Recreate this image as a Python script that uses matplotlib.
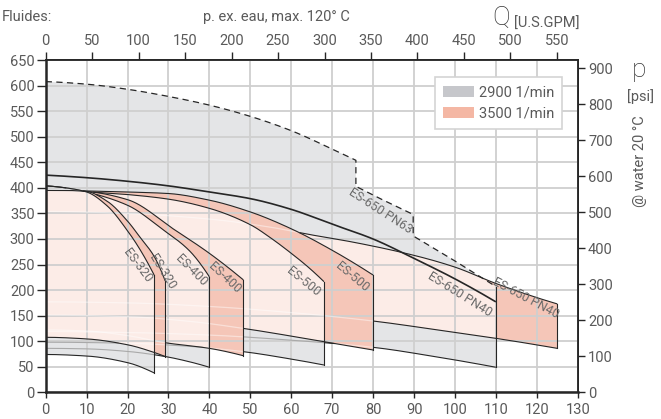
import numpy as np
import matplotlib
matplotlib.use("Agg")
import matplotlib.pyplot as plt
from matplotlib.patches import Polygon, Patch
from matplotlib.path import Path

plt.rcParams["font.family"] = ["Roboto", "DejaVu Sans"]

# ---------------------------------------------------------------- axes values
flow_ticks = np.arange(0, 131, 10)      # Q [m3/h]
head_ticks = np.arange(0, 651, 50)      # H [m]
gpm_ticks = np.arange(0, 551, 50)       # Q [U.S.GPM]
psi_ticks = np.arange(0, 901, 100)      # p [psi]
M3H_TO_GPM = 4.403
M_TO_PSI = 1.4198

# ---------------------------------------------------------------- ES-320
es320_top_2900_q = [0, 5, 10, 15, 20, 23, 26.5]
es320_top_2900_h = [404, 400, 392, 365, 316, 280, 229.5]
es320_top_3500_q = [0, 5, 10, 15, 20, 23, 26.5, 29.2]
es320_top_3500_h = [395, 395, 393, 374, 335, 304, 266, 218]
es320_bot_2900_q = [0, 10, 20, 26.5]
es320_bot_2900_h = [74, 71, 58, 38]
es320_bot_3500_q = [0, 10, 20, 26.5, 29.2]
es320_bot_3500_h = [107.6, 104.5, 93, 78, 70]

# ---------------------------------------------------------------- ES-400
es400_top_2900_q = [0, 5, 10, 20, 28.7, 35, 40]
es400_top_2900_h = [404, 400, 392, 366, 318, 278, 226]
es400_top_3500_q = [0, 5, 10, 20, 31.5, 40, 48.3]
es400_top_3500_h = [395, 395, 393, 377, 318, 272, 220]
es400_bot_2900_q = [0, 10, 20, 29.2, 35, 40]
es400_bot_2900_h = [86, 85, 80, 70, 60, 49]
es400_bot_3500_q = [0, 10, 20, 29.2, 40, 48.3]
es400_bot_3500_h = [122, 120, 111, 97, 86, 71.6]

# ---------------------------------------------------------------- ES-500
es500_top_2900_q = [0, 5, 10, 20, 30, 40, 50, 55, 60, 64, 68]
es500_top_2900_h = [404, 400, 393, 387, 378, 360, 328, 302, 272, 246, 216.5]
es500_top_3500_q = [0, 5, 10, 20, 30, 40, 50, 60, 70, 80]
es500_top_3500_h = [395, 395, 394, 392, 389, 376, 353, 320, 278, 229.5]
es500_bot_2900_q = [0, 20, 35, 48.3, 60, 68]
es500_bot_2900_h = [98, 96, 90, 79.5, 65, 53.4]
es500_bot_3500_q = [0, 20, 35, 48.3, 60, 68, 80]
es500_bot_3500_h = [151, 148, 139, 125, 110, 99, 82.8]

# ---------------------------------------------------------------- ES-650
es650_top_2900_q = [0, 10, 20, 30, 40, 50, 60, 70, 80, 90, 100, 110]
es650_top_2900_h = [425, 420, 413, 404, 392, 379, 358, 329, 300, 262, 222, 177]
es650_top_3500_q = [0, 20, 40, 55, 65, 75, 90, 100, 110, 125]
es650_top_3500_h = [354, 350, 339, 323, 308, 294, 268, 245, 213, 173]
es650_bot_2900_q = [0, 20, 40, 60, 80, 95, 110]
es650_bot_2900_h = [119, 117, 112, 102, 88, 70, 49]
es650_bot_3500_q = [0, 20, 40, 60, 80, 95, 110, 125]
es650_bot_3500_h = [177, 175, 168, 156, 139.5, 123, 105.6, 86]
# PN63 limit (2900 1/min): curved part, then straight stepped part
pn63_curve_q = [0, 10, 20, 30, 40, 50, 60, 70, 75.8]
pn63_curve_h = [608, 603, 593, 579, 562, 540, 512, 476, 454]
pn63_step_q = [75.8, 82, 89.8, 89.8, 100, 110]
pn63_step_h = [403, 378, 348, 306, 257, 207]

# ---------------------------------------------------------------- style
GREY = "#e4e5e7"
SALMON = "#f5c6b8"
PINK = "#fcece7"
LEG_GREY = "#c6c7cb"
LEG_SALMON = "#f4b7a4"
INK = "#262626"
LABEL = "#5a5a5a"
GRID = "#cfcfcf"


def pchip(x, y, xs):
    """Monotone cubic through the given points."""
    x = np.asarray(x, float)
    y = np.asarray(y, float)
    h = np.diff(x)
    d = np.diff(y) / h
    m = np.zeros_like(y)
    for k in range(1, len(x) - 1):
        if d[k - 1] * d[k] > 0:
            w1 = 2 * h[k] + h[k - 1]
            w2 = h[k] + 2 * h[k - 1]
            m[k] = (w1 + w2) / (w1 / d[k - 1] + w2 / d[k])
    if len(x) > 2:
        m0 = ((2 * h[0] + h[1]) * d[0] - h[0] * d[1]) / (h[0] + h[1])
        if np.sign(m0) != np.sign(d[0]):
            m0 = 0.0
        m[0] = m0
        mn = ((2 * h[-1] + h[-2]) * d[-1] - h[-1] * d[-2]) / (h[-1] + h[-2])
        if np.sign(mn) != np.sign(d[-1]):
            mn = 0.0
        m[-1] = mn
    else:
        m[:] = d[0]
    idx = np.clip(np.searchsorted(x, xs) - 1, 0, len(h) - 1)
    t = (xs - x[idx]) / h[idx]
    h00 = 2 * t**3 - 3 * t**2 + 1
    h10 = t**3 - 2 * t**2 + t
    h01 = -2 * t**3 + 3 * t**2
    h11 = t**3 - t**2
    return (h00 * y[idx] + h10 * h[idx] * m[idx]
            + h01 * y[idx + 1] + h11 * h[idx] * m[idx + 1])


def curve(q, h, n=400):
    qs = np.linspace(q[0], q[-1], n)
    return qs, pchip(q, h, qs)


# families from back to front
families = [
    dict(t2=(es650_top_2900_q, es650_top_2900_h), t3=(es650_top_3500_q, es650_top_3500_h),
         b2=(es650_bot_2900_q, es650_bot_2900_h), b3=(es650_bot_3500_q, es650_bot_3500_h),
         pn63=True),
    dict(t2=(es500_top_2900_q, es500_top_2900_h), t3=(es500_top_3500_q, es500_top_3500_h),
         b2=(es500_bot_2900_q, es500_bot_2900_h), b3=(es500_bot_3500_q, es500_bot_3500_h)),
    dict(t2=(es400_top_2900_q, es400_top_2900_h), t3=(es400_top_3500_q, es400_top_3500_h),
         b2=(es400_bot_2900_q, es400_bot_2900_h), b3=(es400_bot_3500_q, es400_bot_3500_h)),
    dict(t2=(es320_top_2900_q, es320_top_2900_h), t3=(es320_top_3500_q, es320_top_3500_h),
         b2=(es320_bot_2900_q, es320_bot_2900_h), b3=(es320_bot_3500_q, es320_bot_3500_h)),
]

fig = plt.figure(figsize=(6.61, 4.19), dpi=100)
fig.patch.set_facecolor("white")
ax = fig.add_axes([45.7 / 661, (419 - 392.3) / 419, 532 / 661, (392.3 - 60.15) / 419])
ax.set_xlim(0, 130)
ax.set_ylim(0, 650)

# ---------------------------------------------------------------- fills
geo = []
for i, fam in enumerate(families):
    z = 1.0 + 0.1 * i
    t2q, t2h = curve(*fam["t2"])
    t3q, t3h = curve(*fam["t3"])
    b2q, b2h = curve(*fam["b2"])
    b3q, b3h = curve(*fam["b3"])
    if fam.get("pn63"):
        cq, ch = curve(pn63_curve_q, pn63_curve_h)
        lim_q = np.concatenate([cq, pn63_step_q])
        lim_h = np.concatenate([ch, pn63_step_h])
        top2 = np.column_stack([lim_q, lim_h])
        fam["limit"] = (lim_q, lim_h)
    else:
        top2 = np.column_stack([t2q, t2h])
    xy2 = np.vstack([top2, np.column_stack([b2q[::-1], b2h[::-1]])])
    xy3 = np.vstack([np.column_stack([t3q, t3h]),
                     np.column_stack([b3q[::-1], b3h[::-1]])])
    ax.fill(xy2[:, 0], xy2[:, 1], color=GREY, lw=0, zorder=z)
    ax.fill(xy3[:, 0], xy3[:, 1], color=SALMON, lw=0, zorder=z + 0.02)
    pk, = ax.fill(xy3[:, 0], xy3[:, 1], color=PINK, lw=0, zorder=z + 0.04)
    pk.set_clip_path(Polygon(xy2, closed=True, transform=ax.transData))
    geo.append(dict(p2=Path(xy2), p3=Path(xy3), t2=(t2q, t2h), t3=(t3q, t3h),
                    b2=(b2q, b2h), b3=(b3q, b3h), top2=top2))


def draw_line(qs, hs, layer, lw=0.8, ls="-"):
    pts = np.column_stack([qs, hs])
    in2 = np.zeros(len(qs), bool)
    in3 = np.zeros(len(qs), bool)
    for g in geo[layer + 1:]:
        in2 |= g["p2"].contains_points(pts)
        in3 |= g["p3"].contains_points(pts)
    vis = ~(in2 | in3)
    ax.plot(qs, np.where(vis, hs, np.nan), color=INK, lw=lw, ls=ls,
            zorder=2.2, solid_capstyle="butt")
    ax.plot(qs, np.where(in3, hs, np.nan), color="white", alpha=0.45, lw=0.9, zorder=1.9)
    ax.plot(qs, np.where(in2 & ~in3, hs, np.nan), color="#a9a9a9", lw=0.8, zorder=1.9)


# ---------------------------------------------------------------- outlines
for i, (fam, g) in enumerate(zip(families, geo)):
    t2q, t2h = g["t2"]
    t3q, t3h = g["t3"]
    b2q, b2h = g["b2"]
    b3q, b3h = g["b3"]
    draw_line(t2q, t2h, i, lw=1.2 if fam.get("pn63") else 0.8)
    draw_line(t3q, t3h, i)
    draw_line(b2q, b2h, i)
    draw_line(b3q, b3h, i)
    edge2_top = g["top2"][-1, 1]
    ax.plot([t2q[-1], t2q[-1]], [b2h[-1], edge2_top], color=INK, lw=0.8, zorder=2.2)
    ax.plot([t3q[-1], t3q[-1]], [b3h[-1], t3h[-1]], color=INK, lw=0.8, zorder=2.2)
    if fam.get("pn63"):
        lq, lh = fam["limit"]
        ax.plot(lq, lh, color=INK, lw=0.9, ls=(0, (5, 3.5)), zorder=2.3)

# ---------------------------------------------------------------- curve names
labels = [
    ("ES-320", 22.4, 249, -53), ("ES-320", 28.5, 235, -58),
    ("ES-400", 35.7, 239, -45), ("ES-400", 43.7, 225, -43),
    ("ES-500", 63.0, 216, -39), ("ES-500", 74.9, 226, -40),
    ("ES-650 PN40", 101.2, 192, -32), ("ES-650 PN40", 117.3, 184, -28),
    ("ES-650 PN63", 81.7, 355, -33),
]
for txt, q, h, rot in labels:
    ax.text(q, h, txt, rotation=rot, rotation_mode="anchor", ha="center", va="center",
            fontsize=9, color="#6a6a6a", zorder=3)

# ---------------------------------------------------------------- axes
ax.set_xticks(flow_ticks)
ax.set_yticks(head_ticks)
ax.grid(True, color=GRID, lw=1.3)
for s in ax.spines.values():
    s.set_color(INK)
    s.set_linewidth(1.3)
ax.spines["left"].set_linewidth(1.8)
ax.spines["bottom"].set_linewidth(1.8)
ax.tick_params(axis="x", direction="out", length=4.5, width=1.0, pad=3,
               labelsize=10.5, color=INK, labelcolor=LABEL)
ax.tick_params(axis="y", direction="out", length=6.5, width=1.0, pad=1.5,
               labelsize=10.5, color=INK, labelcolor=LABEL)

secx = ax.secondary_xaxis("top", functions=(lambda q: q * M3H_TO_GPM,
                                            lambda g: g / M3H_TO_GPM))
secx.set_xticks(gpm_ticks)
secx.tick_params(axis="x", direction="out", length=6, width=1.0, pad=3,
                 labelsize=10.5, color=INK, labelcolor=LABEL)
secx.spines["top"].set_color(INK)
secx.spines["top"].set_linewidth(1.2)

secy = ax.secondary_yaxis("right", functions=(lambda h: h * M_TO_PSI,
                                              lambda p: p / M_TO_PSI))
secy.set_yticks(psi_ticks)
secy.tick_params(axis="y", direction="out", length=5, width=1.0, pad=2.5,
                 labelsize=10.5, color=INK, labelcolor=LABEL)
secy.spines["right"].set_color(INK)
secy.spines["right"].set_linewidth(1.4)

# ---------------------------------------------------------------- legend
leg = ax.legend(handles=[Patch(facecolor=LEG_GREY, edgecolor="none", label="2900 1/min"),
                         Patch(facecolor=LEG_SALMON, edgecolor="none", label="3500 1/min")],
                loc="upper right", bbox_to_anchor=(0.985, 0.97), frameon=True, fancybox=False,
                edgecolor="#d4d4d4", framealpha=1, fontsize=10.5, handlelength=2.1,
                handleheight=0.8, handletextpad=0.35, labelspacing=0.5, borderpad=0.55,
                labelcolor=LABEL)
leg.get_frame().set_linewidth(1.2)


# ---------------------------------------------------------------- captions
def fx(px):
    return px / 661


def fy(py):
    return 1 - py / 419


fig.text(fx(2), fy(17), "Fluides:", fontsize=10.5, color=LABEL, ha="left", va="center")
fig.text(fx(276), fy(17), "p. ex. eau, max. 120° C", fontsize=10.5, color=LABEL,
         ha="center", va="center")
fig.text(fx(501), fy(18), "Q", fontsize=19, color="#333333", ha="center", va="center",
         fontweight="light")
fig.text(fx(547), fy(24), "[U.S.GPM]", fontsize=10.5, color=LABEL, ha="center", va="center")
fig.text(fx(639), fy(70), "p", fontsize=19, color="#333333", ha="center", va="center",
         fontweight="light")
fig.text(fx(640), fy(97), "[psi]", fontsize=10.5, color=LABEL, ha="center", va="center")
fig.text(fx(640), fy(161), "@ water 20 °C", fontsize=10.5, color=LABEL, ha="center",
         va="center", rotation=90)

fig.savefig("out.png", dpi=100)
